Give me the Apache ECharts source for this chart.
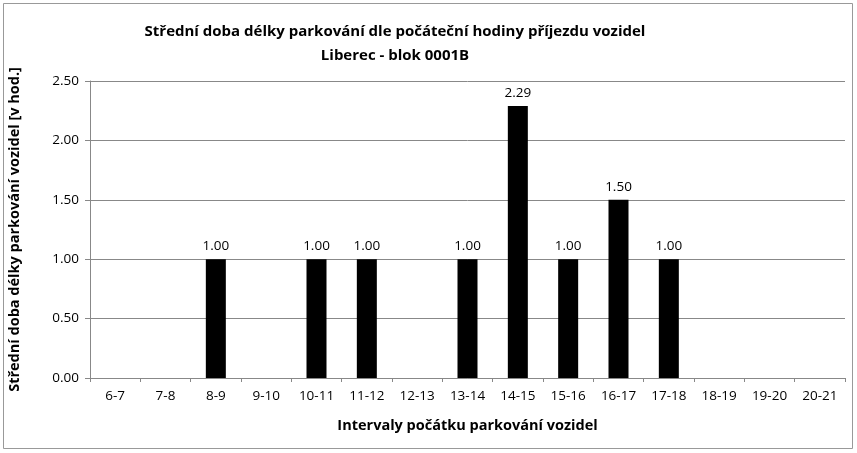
<!DOCTYPE html>
<html>
<head>
<meta charset="utf-8">
<script src="https://cdn.jsdelivr.net/npm/echarts@6/dist/echarts.min.js"></script>
<style>
  html, body { margin: 0; padding: 0; background: #fff; }
  #main { width: 857px; height: 453px; }
</style>
</head>
<body>
<div id="main"></div>
<script>
var categories = ['6-7', '7-8', '8-9', '9-10', '10-11', '11-12', '12-13', '13-14',
    '14-15', '15-16', '16-17', '17-18', '18-19', '19-20', '20-21'];
var values = [null, null, 1.00, null, 1.00, 1.00, null, 1.00,
    2.29, 1.00, 1.50, 1.00, null, null, null];
var yTicks = [0, 0.5, 1, 1.5, 2, 2.5];

var myChart = echarts.init(document.getElementById('main'));
var font = '"Open Sans", "Liberation Sans", sans-serif';

var option = {
    animation: false,
    backgroundColor: '#fff',
    textStyle: { fontFamily: font },
    title: {
        text: 'Střední doba délky parkování dle počáteční hodiny příjezdu vozidel\nLiberec - blok 0001B',
        left: 390,
        top: 15,
        textAlign: 'center',
        textStyle: {
            fontFamily: font,
            fontSize: 15,
            fontWeight: 'bold',
            color: '#000',
            lineHeight: 24
        }
    },
    graphic: [{
        type: 'rect',
        shape: { x: 3.5, y: 3.5, width: 849, height: 445 },
        style: { fill: 'none', stroke: '#999', lineWidth: 1 },
        silent: true
    }],
    grid: {
        left: 90,
        right: 12,
        top: 81,
        bottom: 75,
        outerBoundsMode: 'none',
        containLabel: false
    },
    xAxis: {
        type: 'category',
        data: categories,
        boundaryGap: true,
        name: 'Intervaly počátku parkování vozidel',
        nameLocation: 'middle',
        nameGap: 40,
        nameTextStyle: { fontFamily: font, fontSize: 14.5, fontWeight: 'bold', color: '#000' },
        axisLine: { lineStyle: { color: '#888', width: 1 } },
        axisTick: { show: true, length: 4, lineStyle: { color: '#888' } },
        axisLabel: { fontFamily: font, fontSize: 13.5, color: '#000', margin: 11 },
        splitLine: { show: false }
    },
    yAxis: {
        type: 'value',
        min: yTicks[0],
        max: yTicks[yTicks.length - 1],
        interval: 0.5,
        name: 'Střední doba délky parkování vozidel [v hod.]',
        nameLocation: 'middle',
        nameGap: 68,
        nameTextStyle: { fontFamily: font, fontSize: 14.5, fontWeight: 'bold', color: '#000' },
        axisLine: { show: true, lineStyle: { color: '#888', width: 1 } },
        axisTick: { show: true, length: 5, lineStyle: { color: '#888' } },
        axisLabel: {
            fontFamily: font, fontSize: 13.5, color: '#000', margin: 11,
            formatter: function (v) { return v.toFixed(2); }
        },
        splitLine: { show: true, lineStyle: { color: '#888', width: 1 } }
    },
    series: [{
        type: 'bar',
        data: values,
        barWidth: 20,
        itemStyle: { color: '#000' },
        label: {
            show: true,
            position: 'top',
            distance: 6,
            fontFamily: font,
            fontSize: 13.5,
            color: '#000',
            formatter: function (p) { return p.value == null ? '' : p.value.toFixed(2); }
        }
    }]
};
myChart.setOption(option);
</script>
</body>
</html>
